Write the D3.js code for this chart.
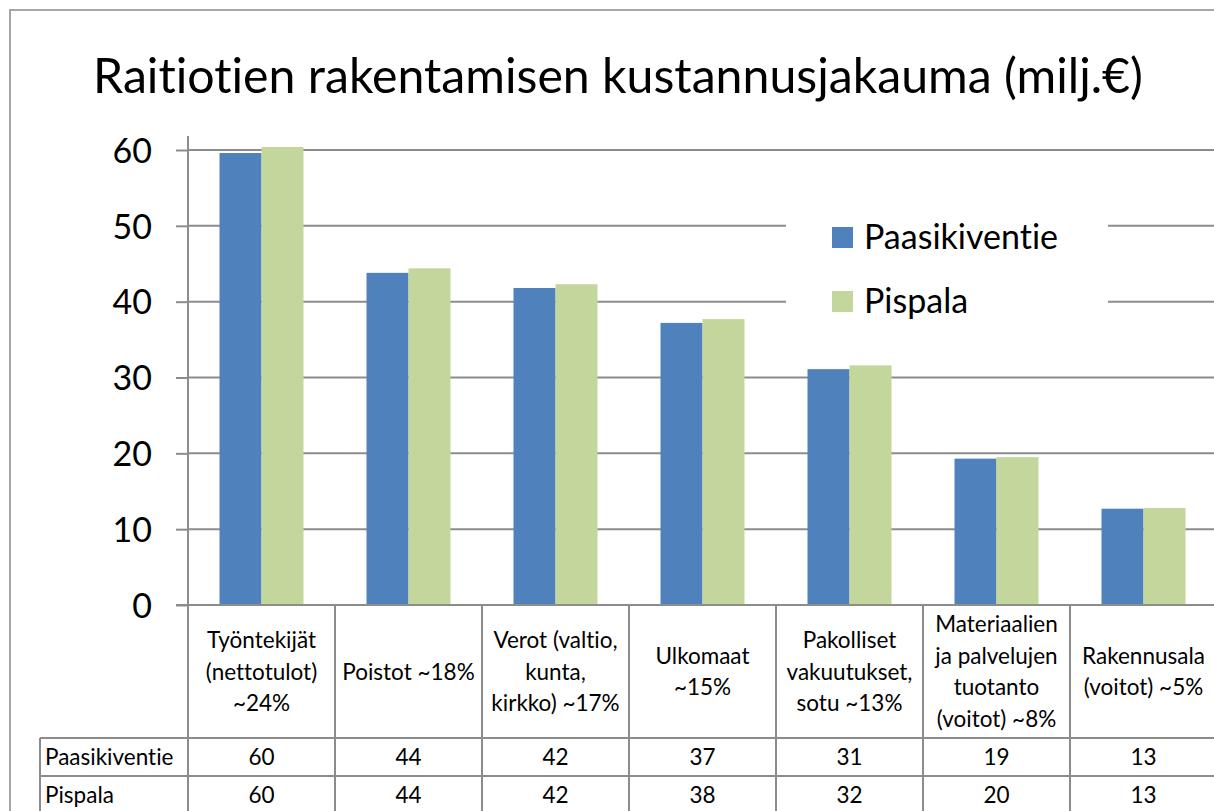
<!DOCTYPE html>
<html>
<head>
<meta charset="utf-8">
<script src="https://cdn.jsdelivr.net/npm/d3@7"></script>
<style>
  body { margin: 0; background: #fff; }
  text { font-family: Lato, "Open Sans", sans-serif; fill: #000; font-variant-ligatures: none; }
</style>
</head>
<body>
<div class="chart"></div>
<script>
// data
const categories = [
	["Työntekijät", "(nettotulot)", "~24%"],
	["Poistot ~18%"],
	["Verot (valtio,", "kunta,", "kirkko) ~17%"],
	["Ulkomaat", "~15%"],
	["Pakolliset", "vakuutukset,", "sotu ~13%"],
	["Materiaalien", "ja palvelujen", "tuotanto", "(voitot) ~8%"],
	["Rakennusala", "(voitot) ~5%"]
];
const seriesNames = ["Paasikiventie", "Pispala"];
const paasikiventie = [59.6, 43.8, 41.8, 37.2, 31.1, 19.3, 12.7];
const pispala = [60.4, 44.4, 42.3, 37.7, 31.6, 19.5, 12.8];
const yTicks = [0, 10, 20, 30, 40, 50, 60];
const title = "Raitiotien rakentamisen kustannusjakauma (milj.€)";

const values = [paasikiventie, pispala];
const colors = ["#4F81BD", "#C3D69B"];
const gridColor = "#8c8c8c";

let outWidth = 1214, outHeight = 811;
const svg = d3.select('.chart').append('svg')
	.attr("width", outWidth)
	.attr("height", outHeight);

// outer chart border (runs past the picture on right and bottom)
svg.append("rect")
	.attr("x", 10).attr("y", 10)
	.attr("width", 1300).attr("height", 900)
	.attr("fill", "#fff")
	.attr("stroke", "#a5a5a5")
	.attr("stroke-width", 2);

// title, fitted to its width in the reference
const t = svg.append("text")
	.attr("x", 618)
	.attr("y", 93)
	.attr("text-anchor", "middle")
	.style("font-size", "46px")
	.text(title);
let tw = t.node().getComputedTextLength();
t.style("font-size", (46 * 1050 / tw) + "px");

const x = d3.scaleBand()
	.domain(d3.range(categories.length))
	.range([188, 188 + 147 * categories.length]);
const xSub = d3.scaleBand()
	.domain(seriesNames)
	.range([31.5, x.bandwidth() - 31.5]);
const y = d3.scaleLinear()
	.domain([0, 60])
	.range([605, 150]);

// gridlines
svg.append("g")
	.selectAll("line")
	.data(yTicks.filter(d => d > 0))
	.join("line")
	.attr("x1", 188).attr("x2", 1300)
	.attr("y1", d => y(d)).attr("y2", d => y(d))
	.attr("stroke", gridColor)
	.attr("stroke-width", 2);

// legend box (white, covers the gridlines)
const legend = svg.append("g");
legend.append("rect")
	.attr("x", 786).attr("y", 200)
	.attr("width", 322).attr("height", 130)
	.attr("fill", "#fff");
legend.selectAll("rect.key")
	.data(seriesNames)
	.join("rect")
	.attr("class", "key")
	.attr("x", 832)
	.attr("y", (d, i) => 227 + i * 64)
	.attr("width", 21).attr("height", 21)
	.attr("fill", (d, i) => colors[i]);
legend.selectAll("text")
	.data(seriesNames)
	.join("text")
	.attr("x", 864)
	.attr("y", (d, i) => 249 + i * 64)
	.style("font-size", "34px")
	.text(d => d);

// bars
const groups = svg.append("g")
	.selectAll("g")
	.data(categories.map((c, i) => i))
	.join("g")
	.attr("transform", i => `translate(${x(i)},0)`);
groups.selectAll("rect")
	.data(i => seriesNames.map((s, k) => ({s: s, k: k, v: values[k][i]})))
	.join("rect")
	.attr("x", d => xSub(d.s))
	.attr("y", d => y(d.v))
	.attr("width", xSub.bandwidth())
	.attr("height", d => y(0) - y(d.v))
	.attr("fill", d => colors[d.k]);

// y axis
const yAxis = d3.axisLeft(y)
	.tickValues(yTicks)
	.tickSize(12)
	.tickPadding(24);
const ay = svg.append("g")
	.attr("transform", "translate(188,0)")
	.call(yAxis);
ay.select(".domain").remove();
ay.selectAll("line").attr("stroke", gridColor).attr("stroke-width", 2);
ay.selectAll("text")
	.style("font-family", "Lato, 'Open Sans', sans-serif")
	.style("font-size", "34px")
	.attr("dy", "0.36em");
ay.append("line")
	.attr("x1", 0).attr("x2", 0)
	.attr("y1", 136).attr("y2", 605)
	.attr("stroke", gridColor).attr("stroke-width", 2);

// data table under the chart
const table = svg.append("g");
const rowY = [738, 776, 814];
const lineStyle = sel => sel.attr("stroke", gridColor).attr("stroke-width", 2);
table.append("line").attr("x1", 176).attr("x2", 1300).attr("y1", 605).attr("y2", 605).call(lineStyle);
rowY.forEach(r => {
	table.append("line").attr("x1", 40).attr("x2", 1300).attr("y1", r).attr("y2", r).call(lineStyle);
});
table.append("line").attr("x1", 40).attr("x2", 40).attr("y1", 738).attr("y2", 814).call(lineStyle);
d3.range(categories.length + 1).forEach(i => {
	const xx = i < categories.length ? x(i) : x.range()[1];
	table.append("line").attr("x1", xx).attr("x2", xx).attr("y1", 605).attr("y2", 814).call(lineStyle);
});

// category labels
const lh = 31.5;
table.selectAll("text.cat")
	.data(categories)
	.join("text")
	.attr("class", "cat")
	.attr("text-anchor", "middle")
	.style("font-size", "22.5px")
	.each(function(lines, i) {
		const top = 671.5 - (lines.length - 1) * lh / 2;
		d3.select(this).selectAll("tspan")
			.data(lines)
			.join("tspan")
			.attr("x", x(i) + x.bandwidth() / 2)
			.attr("y", (d, j) => top + j * lh + 8)
			.text(d => d);
	});

// row labels and values
const fmt = d3.format(".0f");
seriesNames.forEach((s, k) => {
	const cy = (rowY[k] + rowY[k + 1]) / 2 + 8;
	table.append("text")
		.attr("x", 45).attr("y", cy)
		.style("font-size", "22.5px")
		.text(s);
	table.selectAll("text.v" + k)
		.data(values[k])
		.join("text")
		.attr("class", "v" + k)
		.attr("x", (d, i) => x(i) + x.bandwidth() / 2)
		.attr("y", cy)
		.attr("text-anchor", "middle")
		.style("font-size", "22.5px")
		.text(d => fmt(d));
});
</script>
</body>
</html>
